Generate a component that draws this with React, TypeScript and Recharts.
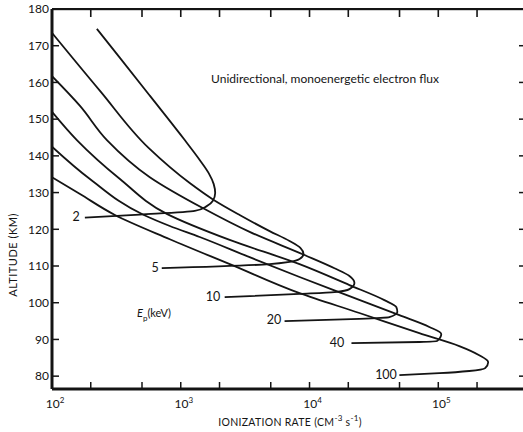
import React from 'react';
import { ScatterChart, Scatter, XAxis, YAxis, Customized } from 'recharts';

// Axis ticks
const X_MAJOR = [100, 1000, 10000, 100000];
const X_MAJOR_EXP = ['2', '3', '4', '5'];
const X_MINOR = [200, 500, 2000, 5000, 20000, 50000, 200000];
const X_TICKS = [...X_MAJOR, ...X_MINOR].sort((a, b) => a - b);
const Y_TICKS = [80, 90, 100, 110, 120, 130, 140, 150, 160, 170, 180];
const Y_TOP = 180;

// Energies (keV) labelling the curves
const ENERGIES = ['2', '5', '10', '20', '40', '100'];

// Ionization rate (cm^-3 s^-1) and altitude (km) along each curve
const RATE_2 = [223, 337, 575, 1074, 1403, 1648, 1803, 1851, 1771, 1592, 1285, 481, 180];
const ALT_2 = [174.6, 166.7, 156.4, 144.3, 138.9, 135.3, 132.3, 129.9, 127.7, 126.3, 125.0, 124.0, 123.2];

const RATE_5 = [100, 236, 565, 1174, 1803, 2867, 4898, 6998, 8518, 8986, 8366, 6998, 4898, 712];
const ALT_5 = [173.5, 157.7, 142.1, 132.6, 128.0, 123.9, 119.5, 116.8, 114.9, 113.3, 111.9, 111.1, 110.5, 109.4];

const RATE_10 = [100, 165, 267, 575, 1481, 3427, 9147, 15620, 20420, 22330, 20420, 15620, 8366, 2193];
const ALT_10 = [161.7, 153.6, 144.3, 134.2, 125.8, 119.3, 113.0, 109.4, 107.3, 105.4, 103.7, 102.9, 102.4, 101.5];

const RATE_20 = [100, 156, 337, 779, 2398, 8366, 20420, 38140, 47240, 48100, 41720, 24410, 6400];
const ALT_20 = [152.0, 144.3, 133.7, 124.2, 117.1, 110.5, 104.8, 100.7, 98.8, 97.5, 96.1, 95.6, 95.0];

const RATE_40 = [100, 197, 517, 822, 1403, 3427, 8366, 20420, 49870, 85170, 105500, 98220, 71230, 21170];
const ALT_40 = [142.5, 133.7, 123.9, 120.9, 117.9, 112.4, 107.0, 101.8, 96.6, 93.4, 91.5, 89.6, 89.3, 89.0];

const RATE_100 = [100, 165, 308, 822, 2484, 8366, 24410, 71230, 145500, 207900, 244100, 231300, 174000, 101800, 49870];
const ALT_100 = [134.2, 129.6, 123.9, 117.3, 110.3, 102.6, 97.2, 91.7, 88.2, 85.7, 83.8, 82.2, 81.4, 80.8, 80.3];

const zip = (r: number[], a: number[]) => r.map((x, i) => ({ x, y: a[i] }));

const CURVES = [
  zip(RATE_2, ALT_2),
  zip(RATE_5, ALT_5),
  zip(RATE_10, ALT_10),
  zip(RATE_20, ALT_20),
  zip(RATE_40, ALT_40),
  zip(RATE_100, ALT_100),
];

const INK = '#141414';
const FONT = 'Lato, "DejaVu Sans", sans-serif';
const MARGIN = { top: 9, right: 3, bottom: 0, left: 0 };
const PLOT_LEFT = 52;
const CHART_W = 530;

// bottom axis ticks (inward), mirrored onto the top frame
const BottomTick = (props: any) => {
  const { x, y, payload } = props;
  const i = X_MAJOR.indexOf(Number(payload.value));
  return (
    <g>
      <line x1={x} x2={x} y1={y} y2={y - 7} stroke={INK} strokeWidth={1.5} />
      <line x1={x} x2={x} y1={MARGIN.top + 1} y2={MARGIN.top + 8} stroke={INK} strokeWidth={1.6} />
      {i >= 0 && (
        <text x={x + 3} y={y + 19} textAnchor="middle" fontSize={12} fill={INK} fontFamily={FONT}>
          10<tspan dy={-5} fontSize={8}>{X_MAJOR_EXP[i]}</tspan>
        </text>
      )}
    </g>
  );
};

const LeftTick = (props: any) => {
  const { x, y, payload } = props;
  return (
    <g>
      <line x1={x} x2={x + 7} y1={y} y2={y} stroke={INK} strokeWidth={1.5} />
      <text x={x - 3} y={y} dy={4.3} textAnchor="end" fontSize={12} fill={INK} fontFamily={FONT}>
        {payload.value}
      </text>
    </g>
  );
};

const RightTick = (props: any) => {
  const { x, y } = props;
  return <line x1={x} x2={x - 7} y1={y} y2={y} stroke={INK} strokeWidth={1.5} />;
};

const LABEL_POS = [
  [76, 217],
  [155, 268],
  [213, 297],
  [274, 320],
  [337, 343],
  [386, 375],
];

const Annotations = () => (
  <g fontFamily={FONT} fill={INK}>
    {/* top frame of the plot */}
    <rect x={PLOT_LEFT} y={MARGIN.top - 1} width={CHART_W - PLOT_LEFT} height={2.2} fill={INK} />
    <text x={325} y={83} textAnchor="middle" fontSize={12}>
      Unidirectional, monoenergetic electron flux
    </text>
    <text
      x={13}
      y={255}
      textAnchor="middle"
      fontSize={11}
      dy={4}
      transform="rotate(-90, 13, 255)"
      letterSpacing={0.5}
    >
      ALTITUDE (KM)
    </text>
    <text x={290} y={426} textAnchor="middle" fontSize={10.5} letterSpacing={0.3}>
      IONIZATION RATE (CM<tspan dy={-5} fontSize={8}>-3</tspan>
      <tspan dy={5}> s</tspan>
      <tspan dy={-5} fontSize={8}>-1</tspan>
      <tspan dy={5}>)</tspan>
    </text>
    <text x={137} y={317} fontSize={11}>
      <tspan fontStyle="italic">E</tspan>
      <tspan dy={4} fontSize={8}>p</tspan>
      <tspan dy={-4}>(keV)</tspan>
    </text>
    {ENERGIES.map((e, i) => (
      <text key={e} x={LABEL_POS[i][0]} y={LABEL_POS[i][1]} dy={4.3} textAnchor="middle" fontSize={12.5}>
        {e}
      </text>
    ))}
  </g>
);

export default function App() {
  return (
    <div
      style={{
        position: 'absolute',
        left: 0,
        top: 0,
        width: 523,
        height: 432,
        overflow: 'hidden',
        background: '#fff',
      }}
    >
      <ScatterChart width={CHART_W} height={432} margin={MARGIN}>
        <XAxis
          xAxisId="b"
          dataKey="x"
          type="number"
          scale="log"
          domain={[100, 480000]}
          allowDataOverflow
          ticks={X_TICKS}
          interval={0}
          orientation="bottom"
          height={43}
          tickSize={0}
          tickMargin={0}
          tickLine={false}
          axisLine={{ stroke: INK, strokeWidth: 3 }}
          tick={<BottomTick />}
        />
        <YAxis
          yAxisId="l"
          dataKey="y"
          type="number"
          domain={[76.5, Y_TOP]}
          allowDataOverflow
          ticks={Y_TICKS}
          interval={0}
          orientation="left"
          width={52}
          tickSize={0}
          tickMargin={0}
          tickLine={false}
          axisLine={{ stroke: INK, strokeWidth: 3 }}
          tick={<LeftTick />}
        />
        <YAxis
          yAxisId="r"
          dataKey="y"
          type="number"
          domain={[76.5, Y_TOP]}
          allowDataOverflow
          ticks={Y_TICKS}
          interval={0}
          orientation="right"
          width={1}
          tickSize={0}
          tickMargin={0}
          tickLine={false}
          axisLine={{ stroke: INK, strokeWidth: 2 }}
          tick={<RightTick />}
        />
        {CURVES.map((pts, i) => (
          <Scatter
            key={ENERGIES[i]}
            name={ENERGIES[i] + ' keV'}
            data={pts}
            xAxisId="b"
            yAxisId="l"
            line={{ stroke: INK, strokeWidth: 1.8 }}
            lineType="joint"
            lineJointType="monotoneY"
            shape={() => <g />}
            isAnimationActive={false}
          />
        ))}
        <Customized component={Annotations} />
      </ScatterChart>
    </div>
  );
}
